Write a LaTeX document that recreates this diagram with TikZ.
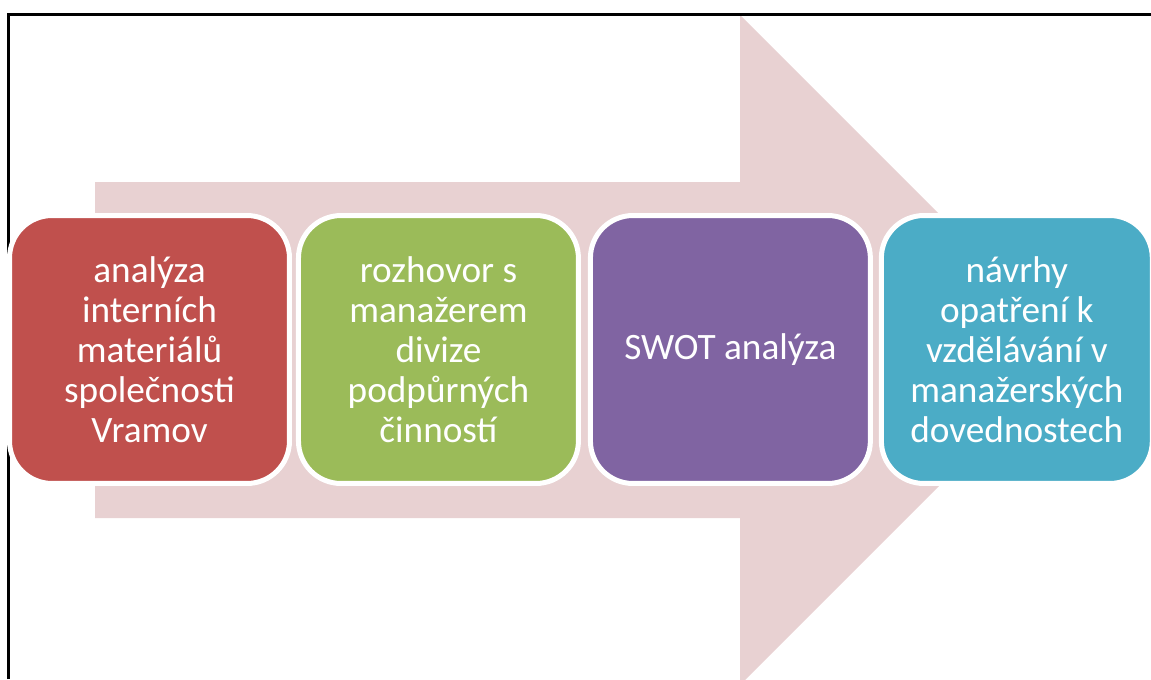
\documentclass[tikz,border=0pt]{standalone}
\usepackage{fontspec}
\setmainfont{Carlito}
\usetikzlibrary{positioning}
\definecolor{stepred}{RGB}{192,80,77}
\definecolor{stepgreen}{RGB}{155,187,89}
\definecolor{steppurple}{RGB}{128,100,162}
\definecolor{stepteal}{RGB}{75,172,198}
\definecolor{arrowpink}{RGB}{232,209,210}

\begin{document}
\begin{tikzpicture}[
    x=0.02cm, y=-0.02cm,
    stage/.style={rectangle, draw=white, line width=0.1cm, rounded corners=0.85cm, minimum width=5.6cm, minimum height=5.36cm, inner sep=0pt, align=center, text=white, font=\fontsize{21.2}{22.7}\selectfont},
    frame/.style={draw=black, line width=0.054cm}
]
\useasboundingbox (0,0) rectangle (1151,679);

% big process arrow behind the steps
\begin{scope}
\clip (0,0) rectangle (1151,679);
\fill[arrowpink] (95,182) -- (740,182) -- (740,15) -- (1075,350) -- (740,685) -- (740,518) -- (95,518) -- cycle;
\end{scope}

\draw[frame] (8.7,679) -- (8.7,14.3) -- (1151,14.3);

\node[stage, fill=stepred] (analyza) at (149.5,349.5) {analýza\\interních\\materiálů\\společnosti\\Vramov};
\node[stage, fill=stepgreen, right=0.08cm of analyza] (rozhovor) {rozhovor s\\manažerem\\divize\\podpůrných\\činností};
\node[stage, fill=steppurple, right=0.14cm of rozhovor] (swot) {SWOT analýza};
\node[stage, fill=stepteal, right=0.12cm of swot, minimum width=5.42cm] (navrhy) {návrhy\\opatření k\\vzdělávání v\\manažerských\\dovednostech};

\end{tikzpicture}
\end{document}
